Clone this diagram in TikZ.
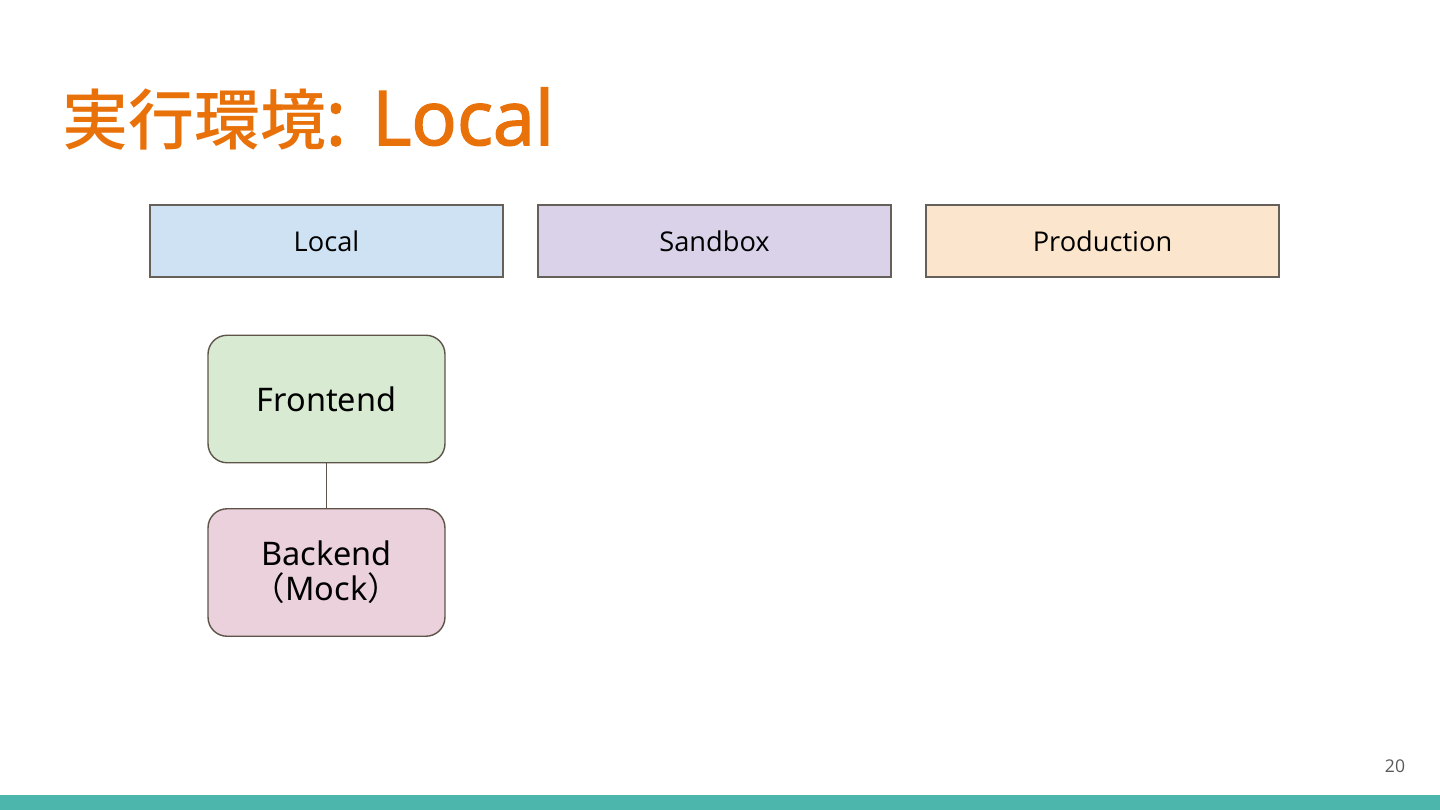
\documentclass[tikz,border=0pt]{standalone}
\usepackage{fontspec}
\setmainfont{Open Sans}
\newfontfamily\cjkfont{Noto Sans CJK JP}
\newfontfamily\cjktitle{Noto Sans CJK JP Medium}
\newfontfamily\latintitle{Open Sans}[FakeBold=2]
\newfontfamily\nodefont{Noto Sans}
\usepackage{tikz}

\definecolor{titleorange}{RGB}{232,113,10}
\definecolor{barteal}{RGB}{77,182,172}
\definecolor{boxline}{RGB}{102,96,90}
\definecolor{nodeline}{RGB}{94,84,74}
\definecolor{localblue}{RGB}{207,226,243}
\definecolor{sandpurple}{RGB}{217,210,233}
\definecolor{prodorange}{RGB}{252,229,205}
\definecolor{frontgreen}{RGB}{217,234,211}
\definecolor{backpink}{RGB}{234,209,220}

\tikzset{
  envbox/.style={draw=boxline, thick, minimum width=7.06cm, minimum height=1.44cm, inner sep=0pt,
    font=\fontsize{15.5}{18}\selectfont},
  partbox/.style={draw=nodeline, thick, rounded corners=0.38cm, minimum width=4.74cm, minimum height=2.55cm,
    inner sep=0pt, align=center, font=\nodefont\fontsize{18.5}{20}\selectfont}
}

\begin{document}
\begin{tikzpicture}[x=0.02cm,y=-0.02cm]
\useasboundingbox (0,0) rectangle (1440,810);
\fill[barteal] (0,795) rectangle (1440,810);
\node[anchor=base west, text=titleorange, inner sep=0pt, font=\latintitle\fontsize{43}{50}\selectfont] (title) at (62,145)
  {{\cjktitle\fontsize{37.5}{50}\selectfont 実行環境}: Local};
\node[text=black!65, inner sep=0pt, font=\fontsize{10}{12}\selectfont] (page) at (1395,766) {20};

\node[envbox, fill=localblue] (local) at (326.5,241) {Local};
\node[envbox, fill=sandpurple] (sandbox) at (714.5,241) {Sandbox};
\node[envbox, fill=prodorange] (prod) at (1102.5,241) {Production};

\node[partbox, fill=frontgreen] (frontend) at (326.5,399) {Frontend};
\node[partbox, fill=backpink] (backend) at (326.5,572.5) {Backend\\{\cjkfont（}Mock{\cjkfont）}};
\draw[nodeline, thick] (frontend) -- (backend);

\end{tikzpicture}
\end{document}
